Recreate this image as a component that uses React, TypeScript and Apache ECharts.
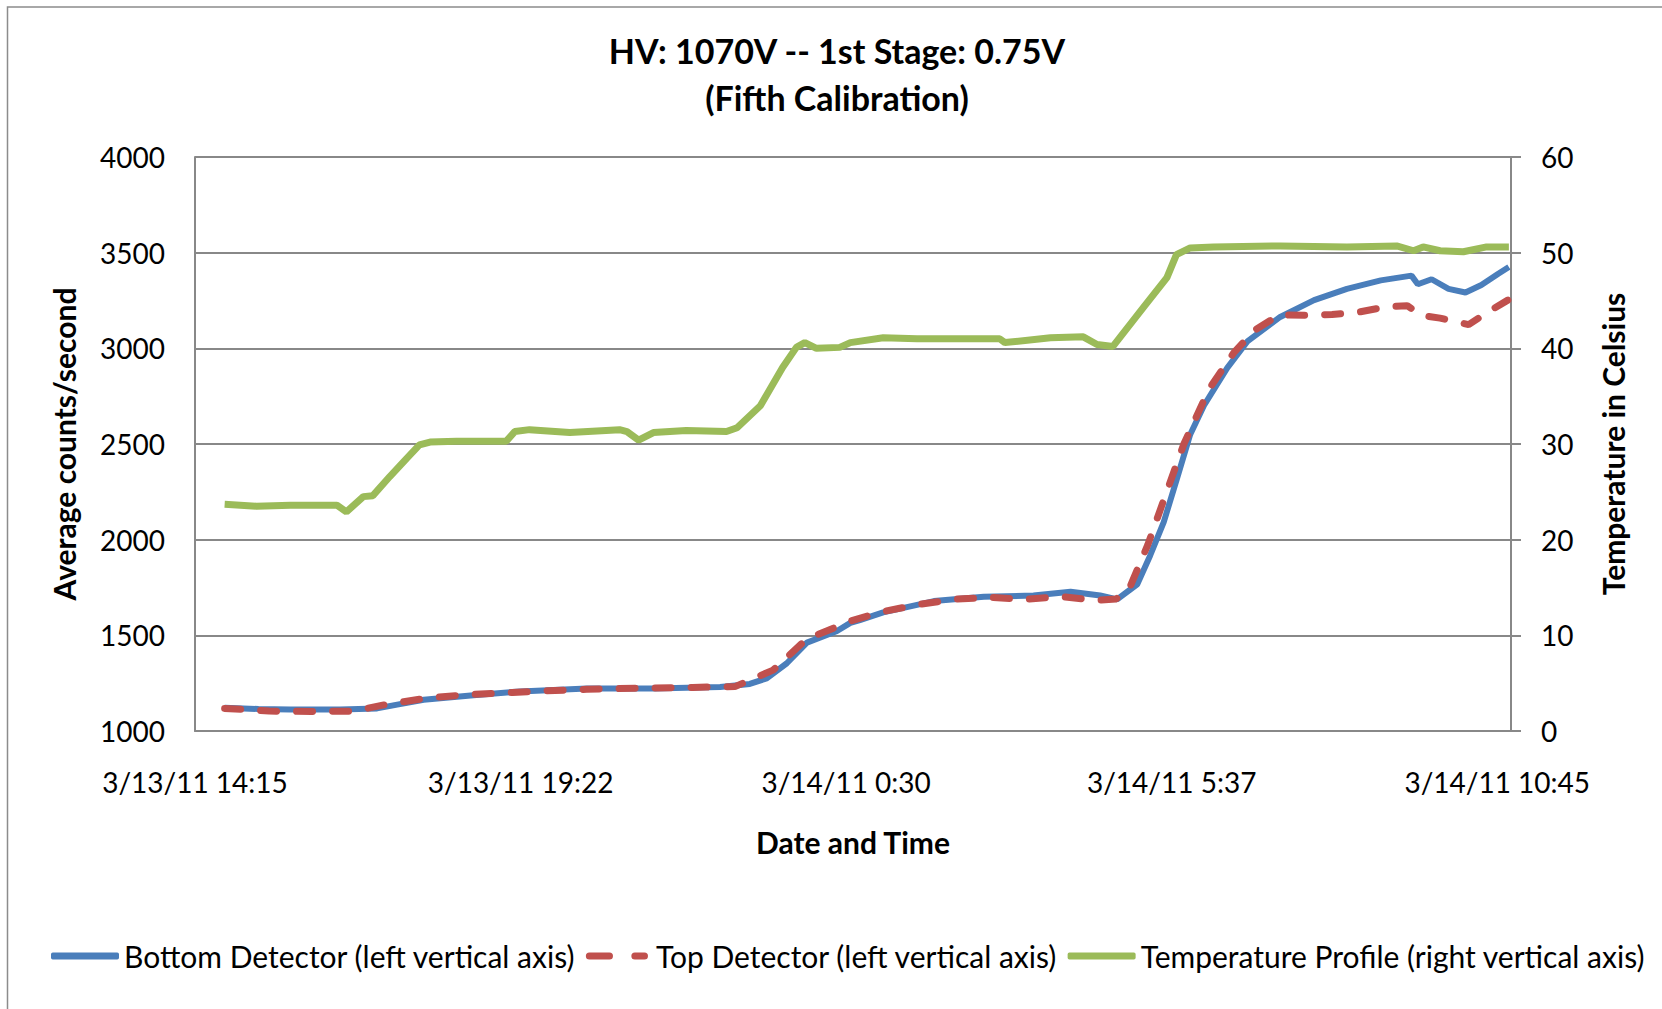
import React, { useEffect, useRef } from "react";
import * as echarts from "echarts";

// ---- data (minutes after 3/13/11 14:15) ----
const xTickLabels = ["3/13/11 14:15", "3/13/11 19:22", "3/14/11 0:30", "3/14/11 5:37", "3/14/11 10:45"];
const xTickStep = 307.5;
const xMax = 1243;

const bottomMinutes = [28, 60, 90, 137, 172, 191, 216, 263, 307, 370, 433, 496, 524, 540, 559, 578, 606, 619, 628, 650, 698, 745, 792, 827, 855, 871, 890, 902, 915, 928, 940, 953, 975, 994, 1025, 1057, 1088, 1120, 1149, 1155, 1168, 1184, 1200, 1215, 1231, 1241];
const bottomValues = [1122, 1115, 1112, 1112, 1118, 1138, 1163, 1187, 1207, 1222, 1222, 1230, 1246, 1275, 1354, 1462, 1521, 1565, 1580, 1620, 1679, 1702, 1708, 1728, 1708, 1688, 1767, 1915, 2092, 2328, 2550, 2701, 2898, 3036, 3164, 3252, 3311, 3355, 3380, 3335, 3361, 3311, 3292, 3331, 3390, 3425];

const topMinutes = [28, 50, 70, 110, 150, 180, 220, 255, 300, 330, 370, 420, 470, 510, 546, 578, 609, 619, 650, 685, 719, 752, 783, 819, 852, 870, 882, 900, 919, 934, 958, 981, 1001, 1024, 1048, 1074, 1100, 1125, 1145, 1158, 1176, 1203, 1222, 1240];
const topValues = [1118, 1112, 1104, 1102, 1104, 1138, 1173, 1189, 1201, 1210, 1218, 1224, 1228, 1232, 1318, 1482, 1551, 1575, 1624, 1663, 1689, 1698, 1688, 1702, 1683, 1690, 1738, 1974, 2269, 2500, 2789, 2976, 3095, 3174, 3173, 3177, 3190, 3217, 3223, 3173, 3158, 3124, 3193, 3252];

const tempMinutes = [28, 58, 90, 134, 143, 159, 168, 184, 200, 212, 222, 247, 294, 302, 316, 354, 401, 408, 419, 433, 464, 502, 512, 534, 555, 568, 576, 587, 609, 619, 650, 682, 760, 765, 808, 839, 852, 867, 896, 918, 927, 940, 962, 1025, 1088, 1135, 1151, 1160, 1176, 1198, 1220, 1241];
const tempValues = [23.7, 23.5, 23.6, 23.6, 22.9, 24.5, 24.6, 26.6, 28.5, 29.9, 30.2, 30.3, 30.3, 31.3, 31.5, 31.2, 31.5, 31.3, 30.4, 31.2, 31.4, 31.3, 31.7, 34.0, 38.0, 40.1, 40.6, 40.0, 40.1, 40.6, 41.1, 41.0, 41.0, 40.6, 41.1, 41.2, 40.4, 40.2, 44.3, 47.4, 49.8, 50.5, 50.6, 50.7, 50.6, 50.7, 50.2, 50.6, 50.2, 50.1, 50.6, 50.6];

const seriesNames = [
  "Bottom Detector (left vertical axis)",
  "Top Detector (left vertical axis)",
  "Temperature Profile (right vertical axis)",
];

const zip = (xs: number[], ys: number[]) => xs.map((x, i) => [x, ys[i]]);

const FONT = 'Lato, "Open Sans", sans-serif';
const GRID = "#888888";
const BLUE = "#4A7EBB";
const RED = "#C0504D";
const GREEN = "#9BBB59";

export default function App() {
  const ref = useRef<HTMLDivElement>(null);
  useEffect(() => {
    if (!ref.current) return;
    const chart = echarts.init(ref.current, undefined, { renderer: "svg" });
    chart.setOption({
      animation: false,
      backgroundColor: "#ffffff",
      textStyle: { fontFamily: FONT },
      title: {
        text: "HV: 1070V -- 1st Stage: 0.75V\n(Fifth Calibration)",
        left: 832,
        top: 22,
        textAlign: "center",
        textStyle: { fontFamily: FONT, fontWeight: "bold", fontSize: 34, lineHeight: 47, color: "#000" },
      },
      graphic: [
        {
          type: "rect",
          shape: { x: 7.5, y: 7, width: 2000, height: 2000 },
          style: { fill: "none", stroke: "#8c8c8c", lineWidth: 1.5 },
          silent: true,
        },
      ],
      legend: {
        left: 46,
        top: 936,
        itemWidth: 68,
        itemHeight: 7,
        itemGap: 10,
        textStyle: { fontFamily: FONT, fontSize: 30, color: "#000" },
        data: [
          { name: seriesNames[0], icon: "roundRect" },
          { name: seriesNames[1], icon: "path://M4,0 H27 A4,4 0 0 1 27,8 H4 A4,4 0 0 1 4,0 Z M56,0 H67 A4,4 0 0 1 67,8 H56 A4,4 0 0 1 56,0 Z" },
          { name: seriesNames[2], icon: "roundRect" },
        ],
      },
      grid: { left: 195, right: 151, top: 157, bottom: 278 },
      xAxis: {
        type: "value",
        min: 0,
        max: xMax,
        interval: xTickStep,
        name: "Date and Time",
        nameLocation: "middle",
        nameGap: 96,
        nameTextStyle: { fontFamily: FONT, fontWeight: "bold", fontSize: 30, color: "#000" },
        axisLine: { show: true, lineStyle: { color: GRID, width: 2 } },
        axisTick: { show: false },
        splitLine: { show: false },
        axisLabel: {
          margin: 37,
          fontFamily: FONT,
          fontSize: 28,
          color: "#000",
          formatter: (v: number) => {
            const i = Math.round(v / xTickStep);
            return Math.abs(v - i * xTickStep) < 0.5 && i < xTickLabels.length ? xTickLabels[i] : "";
          },
        },
      },
      yAxis: [
        {
          type: "value",
          min: 1000,
          max: 4000,
          interval: 500,
          name: "Average counts/second",
          nameLocation: "middle",
          nameRotate: 90,
          nameGap: 116,
          nameTextStyle: { fontFamily: FONT, fontWeight: "bold", fontSize: 30, color: "#000" },
          axisLine: { show: true, lineStyle: { color: GRID, width: 2 } },
          axisTick: { show: false },
          splitLine: { show: true, lineStyle: { color: GRID, width: 2 } },
          axisLabel: { margin: 30, fontFamily: FONT, fontSize: 28, color: "#000", formatter: (v: number) => String(v) },
        },
        {
          type: "value",
          min: 0,
          max: 60,
          interval: 10,
          position: "right",
          name: "Temperature in Celsius",
          nameLocation: "middle",
          nameRotate: 90,
          nameGap: 87,
          nameTextStyle: { fontFamily: FONT, fontWeight: "bold", fontSize: 30, color: "#000" },
          axisLine: { show: true, lineStyle: { color: GRID, width: 2 } },
          axisTick: { show: true, length: 10, lineStyle: { color: GRID, width: 2 } },
          splitLine: { show: false },
          axisLabel: { margin: 30, fontFamily: FONT, fontSize: 28, color: "#000", formatter: (v: number) => String(v) },
        },
      ],
      series: [
        {
          name: seriesNames[0],
          type: "line",
          yAxisIndex: 0,
          data: zip(bottomMinutes, bottomValues),
          showSymbol: false,
          symbol: "none",
          color: BLUE,
          lineStyle: { color: BLUE, width: 6 },
          z: 2,
        },
        {
          name: seriesNames[1],
          type: "line",
          yAxisIndex: 0,
          data: zip(topMinutes, topValues),
          showSymbol: false,
          symbol: "none",
          color: RED,
          lineStyle: { color: RED, width: 7, type: [16, 20], cap: "round" },
          z: 3,
        },
        {
          name: seriesNames[2],
          type: "line",
          yAxisIndex: 1,
          data: zip(tempMinutes, tempValues),
          showSymbol: false,
          symbol: "none",
          color: GREEN,
          lineStyle: { color: GREEN, width: 7 },
          z: 2,
        },
      ],
    });
    return () => chart.dispose();
  }, []);
  return <div ref={ref} style={{ position: "fixed", left: 0, top: 0, width: 1662, height: 1009 }} />;
}
